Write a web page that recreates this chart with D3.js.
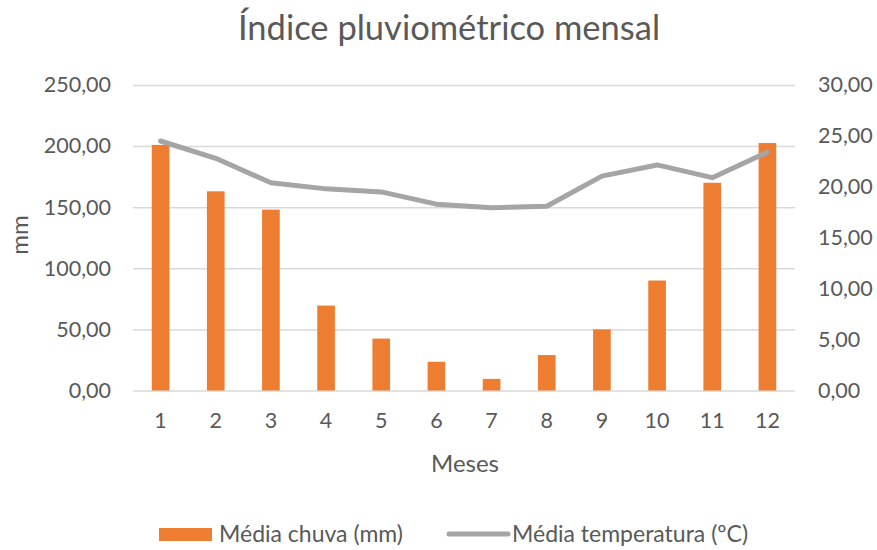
<!DOCTYPE html>
<html>
<head>
<meta charset="utf-8">
<script src="https://cdn.jsdelivr.net/npm/d3@7"></script>
<style>
  html, body { margin: 0; padding: 0; background: #fff; }
  svg { display: block; font-family: Lato, "Open Sans", sans-serif; }
</style>
</head>
<body>
<svg id="chart" width="877" height="550"></svg>
<script>
// Monthly rainfall (mm) and mean temperature (ºC)
const months = [1, 2, 3, 4, 5, 6, 7, 8, 9, 10, 11, 12];
const rainfall = [201, 163, 148, 69.5, 42.5, 23.5, 9.5, 29, 50, 90, 170, 202.5];
const temperature = [24.5, 22.8, 20.4, 19.8, 19.5, 18.3, 17.95, 18.1, 21.05, 22.15, 20.9, 23.4];
const rainTicks = [0, 50, 100, 150, 200, 250];
const tempTicks = [0, 5, 10, 15, 20, 25, 30];

const title = "Índice pluviométrico mensal";
const xTitle = "Meses";
const yTitle = "mm";
const rainName = "Média chuva (mm)";
const tempName = "Média temperatura (ºC)";

const ORANGE = "#ed7d31";
const GREY = "#a5a5a5";
const TEXT = "#595959";
const GRID = "#d9d9d9";

const svg = d3.select("#chart");
const plotLeft = 133, plotRight = 795, plotTop = 85, plotBottom = 390.5;

const x = d3.scaleBand().domain(months).range([plotLeft, plotRight])
  .paddingInner(0.68).paddingOuter(0.34);
const yRain = d3.scaleLinear().domain([0, 250]).range([plotBottom, plotTop]);
const yTemp = d3.scaleLinear().domain([0, 30]).range([plotBottom, plotTop]);

const fmt = d => d3.format(".2f")(d).replace(".", ",");
const FONT = "Lato, 'Open Sans', sans-serif";

// Title
svg.append("text")
  .attr("x", 449).attr("y", 40)
  .attr("text-anchor", "middle")
  .attr("font-size", 34.5)
  .attr("fill", TEXT)
  .text(title);

// Gridlines and left axis
const leftAxis = svg.append("g")
  .attr("transform", `translate(${plotLeft},0)`)
  .call(d3.axisLeft(yRain).tickValues(rainTicks).tickFormat(fmt)
    .tickSize(-(plotRight - plotLeft)).tickPadding(22));
leftAxis.select(".domain").remove();
leftAxis.selectAll(".tick line").attr("stroke", GRID).attr("stroke-width", 1.5);
leftAxis.selectAll(".tick text").attr("fill", TEXT).attr("font-size", 21.5)
  .attr("font-family", FONT);

// Right axis (labels only)
const rightAxis = svg.append("g")
  .attr("transform", `translate(${plotRight},0)`)
  .call(d3.axisRight(yTemp).tickValues(tempTicks).tickFormat(fmt)
    .tickSize(0).tickPadding(23));
rightAxis.select(".domain").remove();
rightAxis.selectAll(".tick text").attr("fill", TEXT).attr("font-size", 21.5)
  .attr("font-family", FONT);

// Bottom axis (labels only)
const bottomAxis = svg.append("g")
  .attr("transform", `translate(0,${plotBottom})`)
  .call(d3.axisBottom(x).tickSize(0).tickPadding(22));
bottomAxis.select(".domain").remove();
bottomAxis.selectAll(".tick text").attr("fill", TEXT).attr("font-size", 21.5)
  .attr("font-family", FONT);

// Rainfall bars
svg.append("g").selectAll("rect")
  .data(months)
  .join("rect")
  .attr("x", (d) => x(d))
  .attr("width", x.bandwidth())
  .attr("y", (d, i) => yRain(rainfall[i]))
  .attr("height", (d, i) => plotBottom - yRain(rainfall[i]))
  .attr("fill", ORANGE);

// Temperature line
const line = d3.line()
  .x((d, i) => x(months[i]) + x.bandwidth() / 2)
  .y(d => yTemp(d));
svg.append("path")
  .datum(temperature)
  .attr("d", line)
  .attr("fill", "none")
  .attr("stroke", GREY)
  .attr("stroke-width", 5)
  .attr("stroke-linejoin", "round")
  .attr("stroke-linecap", "round");

// Axis titles
svg.append("text")
  .attr("x", 465).attr("y", 472)
  .attr("text-anchor", "middle")
  .attr("font-size", 24)
  .attr("fill", TEXT)
  .text(xTitle);

svg.append("text")
  .attr("transform", "translate(28,235) rotate(-90)")
  .attr("text-anchor", "middle")
  .attr("font-size", 24)
  .attr("fill", TEXT)
  .text(yTitle);

// Legend
const legend = svg.append("g");
legend.append("rect")
  .attr("x", 159).attr("y", 528).attr("width", 53).attr("height", 13)
  .attr("fill", ORANGE);
legend.append("text")
  .attr("x", 219).attr("y", 542)
  .attr("font-size", 23)
  .attr("fill", TEXT)
  .text(rainName);
legend.append("line")
  .attr("x1", 449).attr("x2", 508).attr("y1", 534).attr("y2", 534)
  .attr("stroke", GREY).attr("stroke-width", 5).attr("stroke-linecap", "round");
legend.append("text")
  .attr("x", 512).attr("y", 542)
  .attr("font-size", 23)
  .attr("fill", TEXT)
  .text(tempName);
</script>
</body>
</html>
